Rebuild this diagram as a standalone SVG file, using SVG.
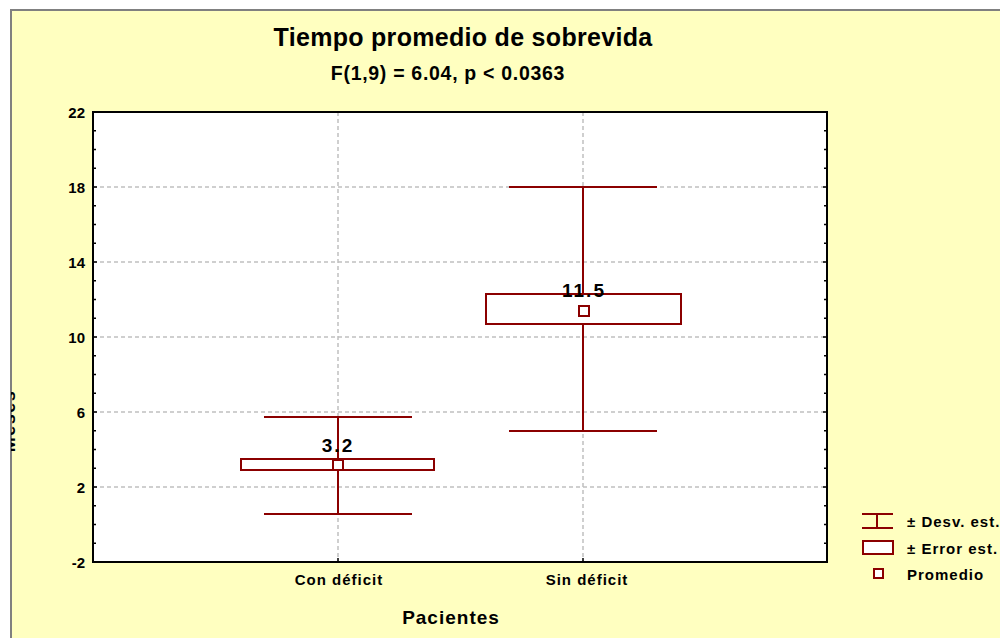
<svg xmlns="http://www.w3.org/2000/svg" width="1000" height="638" viewBox="0 0 1000 638">
<defs>
<style>
text{font-family:"Liberation Sans",Arial,sans-serif;font-weight:bold;fill:#000}
.tick{font-size:15px;text-anchor:end}
.cat{font-size:15px;text-anchor:middle;letter-spacing:1px}
.val{font-size:19px;text-anchor:middle;letter-spacing:2px}
.grid{stroke:#c0c0c0;stroke-width:1.5;stroke-dasharray:4 3;fill:none}
.dr{stroke:#8b0000;stroke-width:2;fill:none}
.box{stroke:#8b0000;stroke-width:2;fill:#fff}
.ax{stroke:#000;stroke-width:2;fill:none}
.leg{font-size:15px;letter-spacing:1px}
</style>
<clipPath id="bg"><rect x="11" y="10" width="989" height="628"/></clipPath>
</defs>
<rect width="1000" height="638" fill="#fff"/>
<rect x="11" y="10" width="995" height="640" fill="#ffffc0" stroke="#808080" stroke-width="2"/>
<g id="title">
<text x="463" y="46" font-size="25" text-anchor="middle" letter-spacing="0.3">Tiempo promedio de sobrevida</text>
<text x="448" y="80" font-size="19.5" text-anchor="middle" letter-spacing="0.7">F(1,9) = 6.04, p &lt; 0.0363</text>
</g>
<g id="plot">
<rect x="93" y="112" width="734" height="450" fill="#fff"/>
<g class="grid">
<line x1="93" y1="187" x2="827" y2="187"/>
<line x1="93" y1="262" x2="827" y2="262"/>
<line x1="93" y1="337" x2="827" y2="337"/>
<line x1="93" y1="412" x2="827" y2="412"/>
<line x1="93" y1="487" x2="827" y2="487"/>
<line x1="338" y1="112" x2="338" y2="562"/>
<line x1="583" y1="112" x2="583" y2="562"/>
</g>
<g class="ax">
<rect x="93" y="112" width="734" height="450"/>
<path d="M93 130.75h3M93 149.5h3M93 168.25h3M93 187h4M93 205.75h3M93 224.5h3M93 243.25h3M93 262h4M93 280.75h3M93 299.5h3M93 318.25h3M93 337h4M93 355.75h3M93 374.5h3M93 393.25h3M93 412h4M93 430.75h3M93 449.5h3M93 468.25h3M93 487h4M93 505.75h3M93 524.5h3M93 543.25h3" stroke-width="1.5"/>
<path d="M827 130.75h-3M827 149.5h-3M827 168.25h-3M827 187h-4M827 205.75h-3M827 224.5h-3M827 243.25h-3M827 262h-4M827 280.75h-3M827 299.5h-3M827 318.25h-3M827 337h-4M827 355.75h-3M827 374.5h-3M827 393.25h-3M827 412h-4M827 430.75h-3M827 449.5h-3M827 468.25h-3M827 487h-4M827 505.75h-3M827 524.5h-3M827 543.25h-3" stroke-width="1.5"/>
<path d="M338 562v-4M583 562v-4" stroke-width="1.5"/>
</g>
<g id="ticklabels">
<text class="tick" x="85" y="118">22</text>
<text class="tick" x="85" y="193">18</text>
<text class="tick" x="85" y="268">14</text>
<text class="tick" x="85" y="343">10</text>
<text class="tick" x="85" y="418">6</text>
<text class="tick" x="85" y="493">2</text>
<text class="tick" x="85" y="568">-2</text>
</g>
</g>
<g id="con-deficit">
<line class="dr" x1="338" y1="417" x2="338" y2="514"/>
<line class="dr" x1="264" y1="417" x2="412" y2="417"/>
<line class="dr" x1="264" y1="514" x2="412" y2="514"/>
<rect class="box" x="241" y="459" width="193" height="11"/>
<rect class="box" x="333" y="460" width="10" height="10"/>
<text class="val" x="338" y="452">3.2</text>
</g>
<g id="sin-deficit">
<line class="dr" x1="583" y1="187" x2="583" y2="431"/>
<line class="dr" x1="509" y1="187" x2="657" y2="187"/>
<line class="dr" x1="509" y1="431" x2="657" y2="431"/>
<rect class="box" x="486" y="294" width="195" height="30"/>
<line class="dr" x1="583" y1="187" x2="583" y2="294"/>
<rect class="box" x="579" y="306" width="10" height="10"/>
<text class="val" x="584" y="297">11.5</text>
</g>
<g id="xlabels">
<text class="cat" x="339" y="585">Con déficit</text>
<text class="cat" x="587" y="585">Sin déficit</text>
<text x="451" y="624" font-size="19" text-anchor="middle" letter-spacing="1">Pacientes</text>
</g>
<g id="ylabel" clip-path="url(#bg)">
<text x="0" y="0" font-size="18" text-anchor="middle" letter-spacing="1.5" transform="translate(15,421) rotate(-90)">Meses</text>
</g>
<g id="legend">
<line class="dr" x1="862" y1="514" x2="893" y2="514"/>
<line class="dr" x1="862" y1="528" x2="893" y2="528"/>
<line class="dr" x1="877" y1="514" x2="877" y2="528"/>
<rect class="box" x="863" y="541" width="30" height="13"/>
<rect class="box" x="874" y="569" width="9" height="9"/>
<text class="leg" x="907" y="527">± Desv. est.</text>
<text class="leg" x="907" y="554">± Error est.</text>
<text class="leg" x="907" y="580">Promedio</text>
</g>
</svg>
